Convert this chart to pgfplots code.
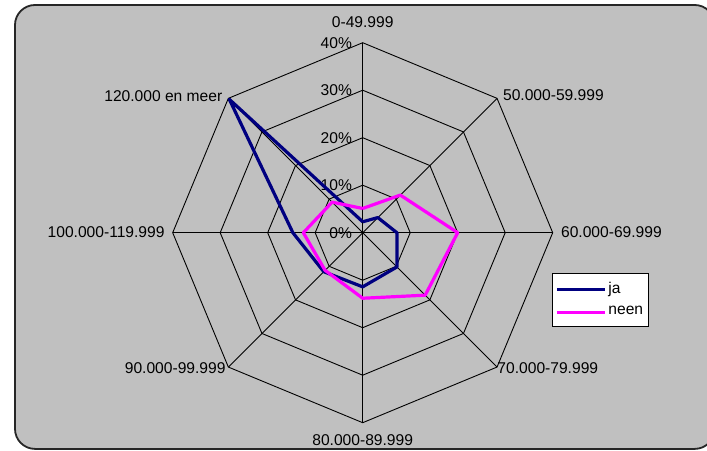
\documentclass[border=0pt]{standalone}
\usepackage{fontspec}
\setmainfont{Liberation Sans}
\usepackage{pgfplots}
\usepackage{pgfplotstable}
\pgfplotsset{compat=1.18}
\definecolor{bg}{RGB}{192,192,192}
\definecolor{navyc}{RGB}{0,0,128}
\definecolor{magc}{RGB}{255,0,255}

% angle (deg, counterclockwise from east), value in percent
\pgfplotstableread{
a r
90 2.3
45 4.5
0 7.2
-45 10.2
-90 11.4
-135 11.6
180 14.7
135 39.7
90 2.3
}\jatable

\pgfplotstableread{
a r
90 5.1
45 11.2
0 20.0
-45 18.6
-90 13.8
-135 11.2
180 12.5
135 9.1
90 5.1
}\neentable

\begin{document}
\begin{tikzpicture}[font=\fontsize{7.8}{9}\selectfont]
\def\u{2.375pt}
\useasboundingbox (-181.35pt,-108.65pt) rectangle (172.15pt,116.35pt);
\begin{scope}
\clip (-181.35pt,-108.65pt) rectangle (172.15pt,116.35pt);
\draw[line width=0.9pt, draw=black!85, fill=bg, rounded corners=10pt] (-173.85pt,-108.1pt) rectangle (176pt,113.85pt);
\end{scope}
% octagonal grid
\foreach \r in {10,20,30,40}
  \draw[line width=0.45pt] (90:\r*\u) -- (45:\r*\u) -- (0:\r*\u) -- (-45:\r*\u) -- (-90:\r*\u) -- (-135:\r*\u) -- (180:\r*\u) -- (135:\r*\u) -- cycle;
\foreach \a in {90,45,0,-45,-90,-135,180,135}
  \draw[line width=0.45pt] (0,0) -- (\a:40*\u);
% radial tick labels
\foreach \r in {0,10,20,30,40}
  \node[anchor=east, inner sep=0pt] at (-5.2pt, \r*\u) {\r\%};
% category labels
\node[inner sep=0pt] at (0pt,105.5pt) {0-49.999};
\node[anchor=west, inner sep=0pt] at (70pt,68.85pt) {50.000-59.999};
\node[anchor=west, inner sep=0pt] at (99pt,0.5pt) {60.000-69.999};
\node[anchor=west, inner sep=0pt] at (67.2pt,-67.7pt) {70.000-79.999};
\node[inner sep=0pt] at (0pt,-103.7pt) {80.000-89.999};
\node[anchor=east, inner sep=0pt] at (-68.4pt,-67.7pt) {90.000-99.999};
\node[anchor=east, inner sep=0pt] at (-98.9pt,0.5pt) {100.000-119.999};
\node[anchor=east, inner sep=0pt] at (-70pt,68.5pt) {120.000 en meer};

\begin{axis}[
  at={(0,0)}, anchor=origin,
  x=2.375pt, y=2.375pt,
  xmin=-45, xmax=45, ymin=-45, ymax=45,
  hide axis, clip=false,
  legend cell align=left,
  legend image code/.code={\draw[#1] (0pt,0pt) -- (24pt,0pt);},
  legend style={at={(axis cs:39.8,-8.42)}, anchor=north west, draw=black,
    fill=white, line width=0.5pt, font=\fontsize{7.8}{9}\selectfont,
    inner xsep=1.5pt, inner ysep=3.5pt, row sep=3pt,
    nodes={inner sep=1pt}},
]
\addplot[navyc, line width=1.6pt, line join=round]
  table[x expr=\thisrow{r}*cos(\thisrow{a}), y expr=\thisrow{r}*sin(\thisrow{a})] {\jatable};
\addlegendentry{ja}
\addplot[magc, line width=1.6pt, line join=round]
  table[x expr=\thisrow{r}*cos(\thisrow{a}), y expr=\thisrow{r}*sin(\thisrow{a})] {\neentable};
\addlegendentry{neen\hspace{2.5pt}}
\end{axis}
\end{tikzpicture}
\end{document}
